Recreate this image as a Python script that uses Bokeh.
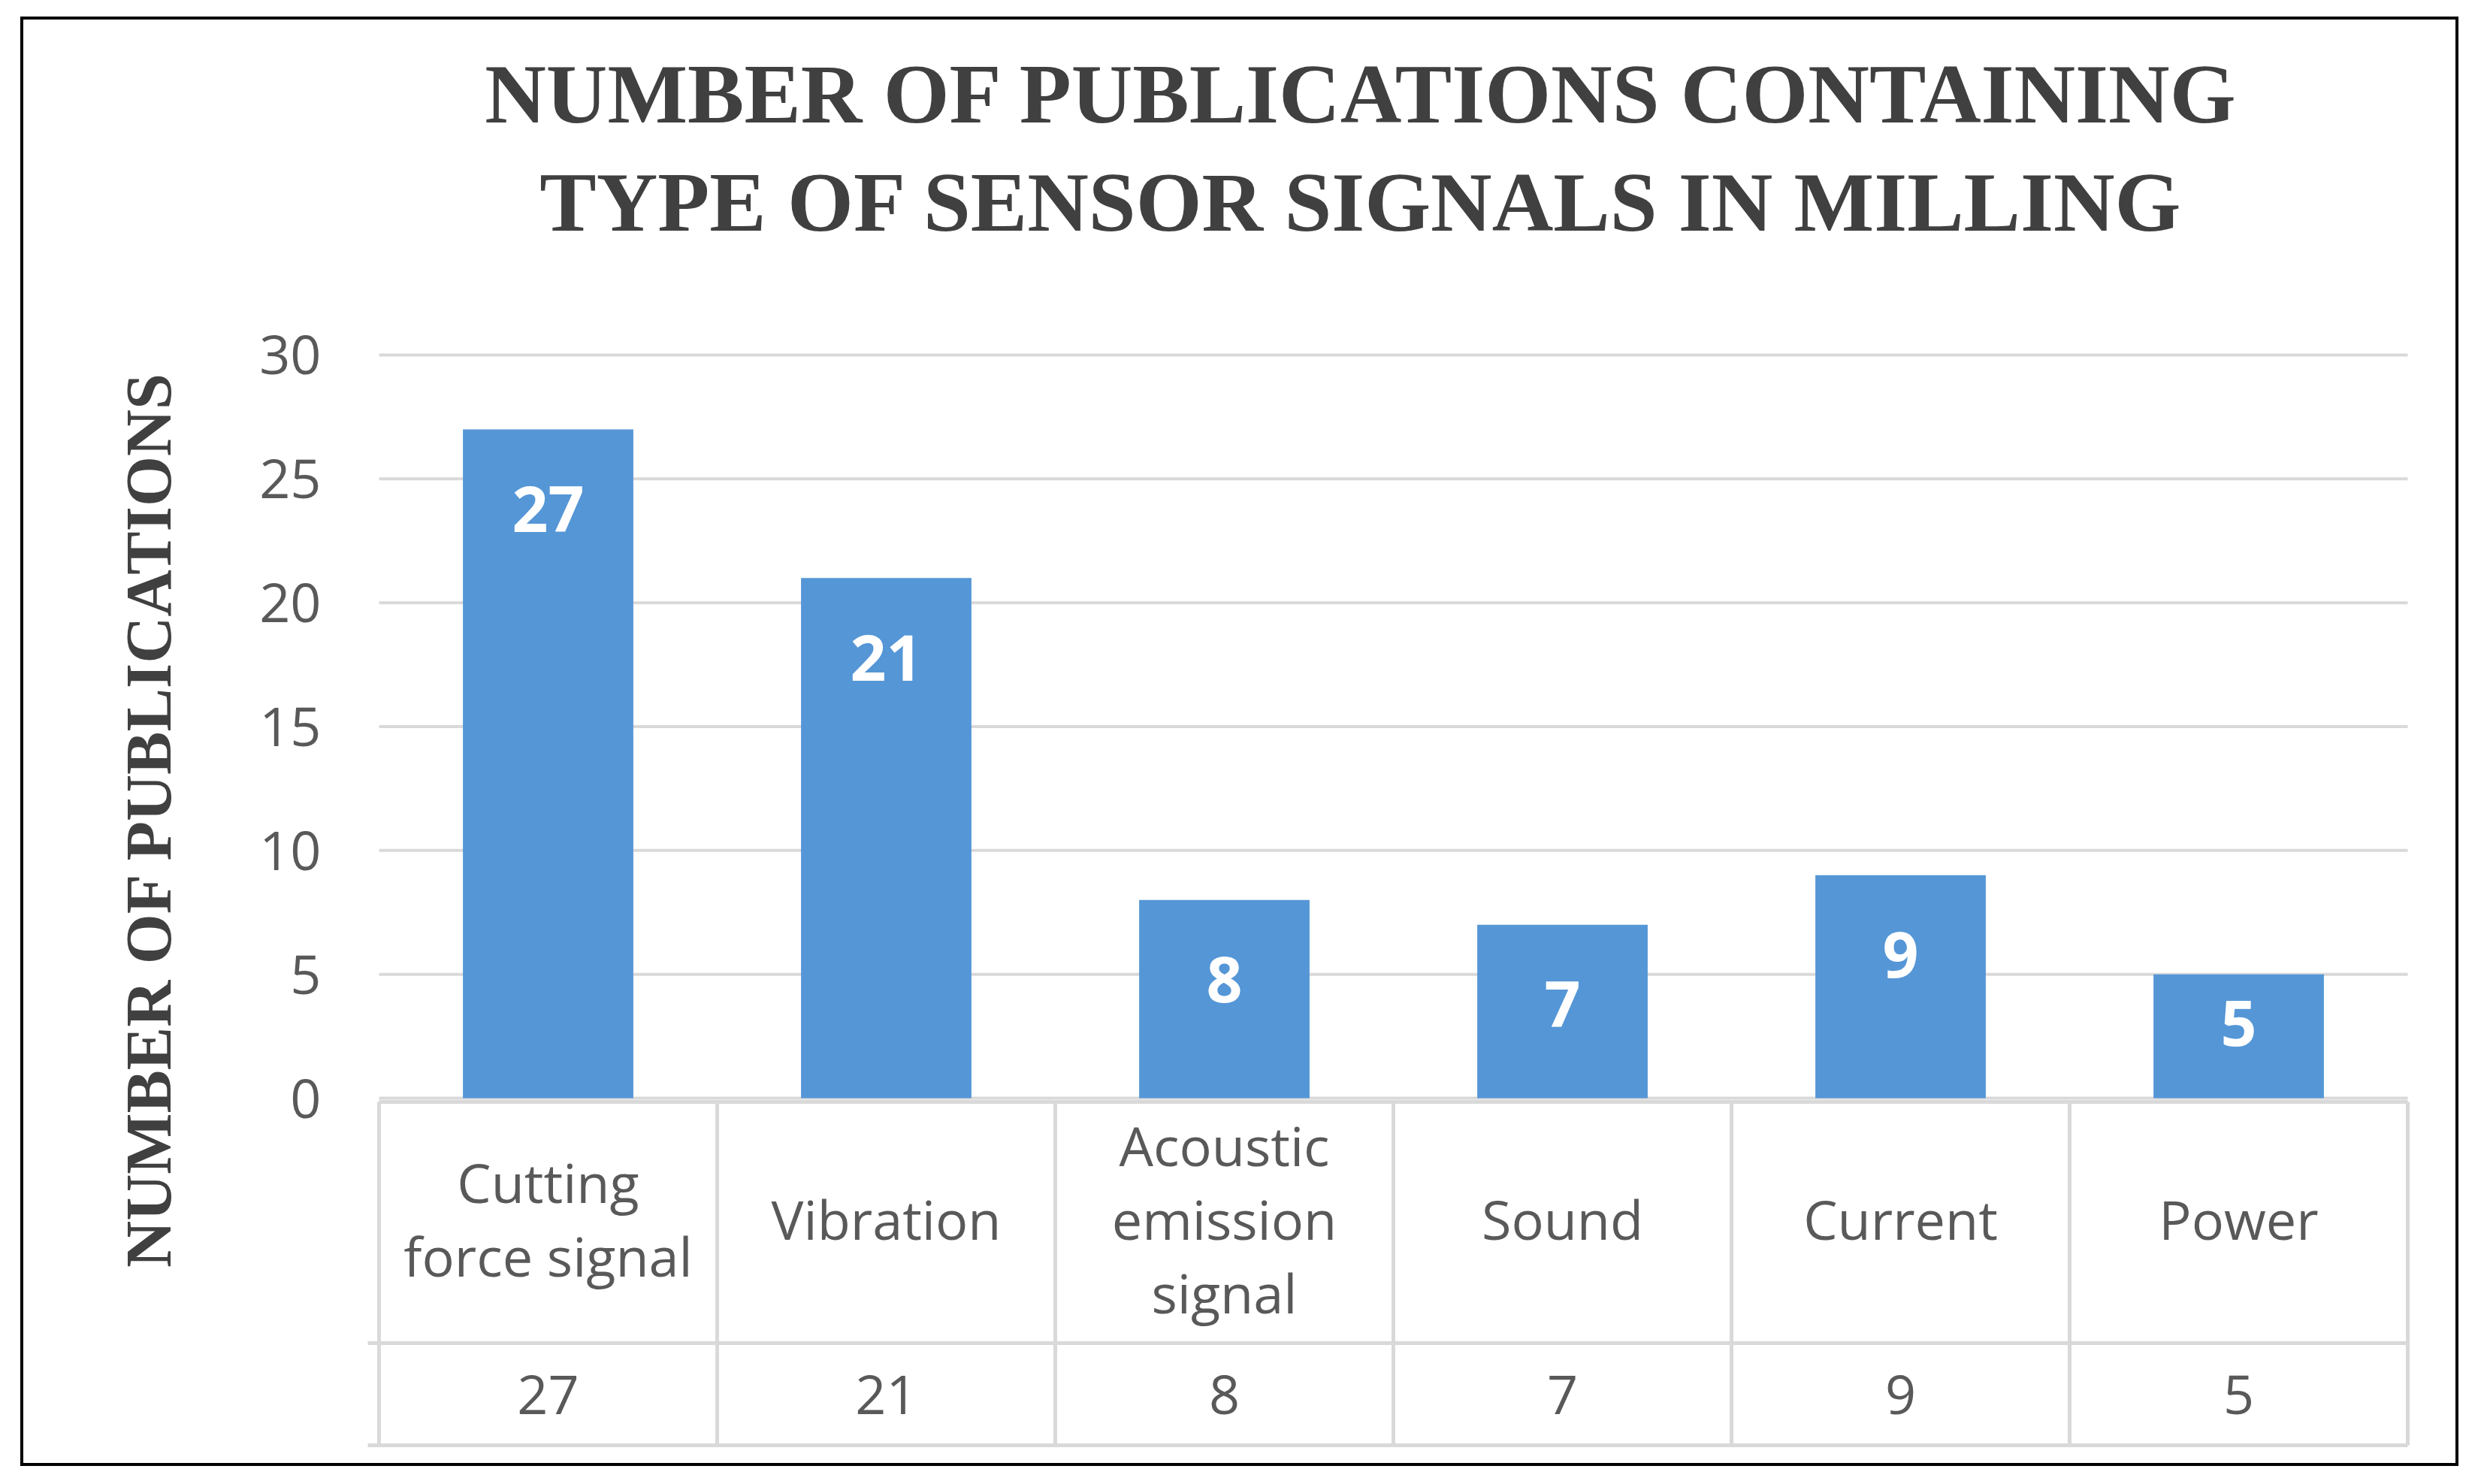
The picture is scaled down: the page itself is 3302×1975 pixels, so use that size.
import math
from bokeh.plotting import figure
from bokeh.models import Range1d, FixedTicker, Label, ColumnDataSource
from bokeh.core.properties import value
from bokeh.embed import file_html
from bokeh.resources import INLINE

# ---- data ----
categories = ["Cutting\nforce signal", "Vibration", "Acoustic\nemission\nsignal",
              "Sound", "Current", "Power"]
counts = [27, 21, 8, 7, 9, 5]
y_ticks = [0, 5, 10, 15, 20, 25, 30]
title_lines = ["NUMBER OF PUBLICATIONS CONTAINING", "TYPE OF SENSOR SIGNALS IN MILLING"]
y_title = "NUMBER OF PUBLICATIONS"

# ---- layout constants (pixels) ----
OX, OY = 31, 26            # page position of the figure box
W, H = 3237, 1921
PXU_X = 450.0              # px per category
PXU_Y = 32.967             # px per publication
X0_PAGE = 504              # page x of the table's left edge
Y0_PAGE = 1461             # page y of value 0


def px_x(page_x):
    return (page_x - X0_PAGE) / PXU_X


def px_y(page_y):
    return (Y0_PAGE - page_y) / PXU_Y


ROW_TOP = px_y(1466)
ROW_MID = px_y(1787)
ROW_BOT = px_y(1923)

GRID = "#d9d9d9"
TXT = "#595959"
DARK = "#404040"

p = figure(width=W, height=H, output_backend="svg", toolbar_location=None, title=None,
           x_axis_type=None,
           x_range=Range1d(px_x(OX), px_x(OX + W)),
           y_range=Range1d(px_y(OY + H), px_y(OY)),
           min_border_left=0, min_border_right=0, min_border_top=0, min_border_bottom=0,
           margin=(OY, 0, 0, OX),
           background_fill_color="white", border_fill_color="white",
           styles={"outline": "4px solid black", "outline-offset": "0px"})
p.outline_line_color = None
p.ygrid.visible = False

# y axis, drawn at the table's left edge
ax = p.yaxis[0]
ax.fixed_location = 0
ax.ticker = FixedTicker(ticks=y_ticks)
ax.axis_line_color = None
ax.major_tick_line_color = None
ax.minor_tick_line_color = None
ax.major_tick_in = 0
ax.major_tick_out = 0
ax.major_label_standoff = 77
ax.major_label_text_font = "Open Sans"
ax.major_label_text_font_size = "72px"
ax.major_label_text_color = TXT

# gridlines
n = len(categories)
p.segment(x0=[0] * len(y_ticks), x1=[n] * len(y_ticks), y0=y_ticks, y1=y_ticks,
          line_color=GRID, line_width=4)

# bars
xs = [i + 0.5 for i in range(n)]
src = ColumnDataSource(dict(
    x=xs, top=counts, cat=categories, lab=[str(c) for c in counts],
    ly=[c - min(106.0, c * PXU_Y - 100.0) / PXU_Y for c in counts],
))
p.vbar(x="x", top="top", bottom=0, width=0.504, source=src,
       fill_color="#5596d6", line_color=None)
p.text(x="x", y="ly", text="lab", source=src, text_align="center",
       text_baseline="middle", text_color="white", text_font=value("Open Sans"),
       text_font_style="bold", text_font_size="84px")

# data table under the chart
p.segment(x0=[0], x1=[n], y0=[ROW_TOP], y1=[ROW_TOP], line_color=GRID, line_width=5)
p.segment(x0=[px_x(489)] * 2, x1=[n] * 2, y0=[ROW_MID, ROW_BOT], y1=[ROW_MID, ROW_BOT],
          line_color=GRID, line_width=5)
p.segment(x0=list(range(n + 1)), x1=list(range(n + 1)),
          y0=[ROW_TOP] * (n + 1), y1=[ROW_BOT] * (n + 1), line_color=GRID, line_width=5)
p.text(x="x", y=px_y(1621), text="cat", source=src, text_align="center",
       text_baseline="middle", text_color=TXT, text_font=value("Open Sans"),
       text_font_size="72px", text_line_height=1.0)
p.text(x="x", y=(ROW_MID + ROW_BOT) / 2, text="lab", source=src, text_align="center",
       text_baseline="middle", text_color=TXT, text_font=value("Open Sans"),
       text_font_size="72px")

# title
for line, mid in zip(title_lines, [124, 268]):
    p.add_layout(Label(x=px_x(1812), y=px_y(mid), text=line, text_align="center",
                       text_baseline="middle", text_font="Liberation Serif",
                       text_font_style="bold", text_font_size="113px", text_color=DARK))

# y axis title
p.add_layout(Label(x=px_x(197), y=px_y(1090), text=y_title, angle=math.pi / 2,
                   text_align="center", text_baseline="middle",
                   text_font="Liberation Serif", text_font_style="bold",
                   text_font_size="86px", text_color=DARK))

open("out.html", "w").write(file_html(p, INLINE))
